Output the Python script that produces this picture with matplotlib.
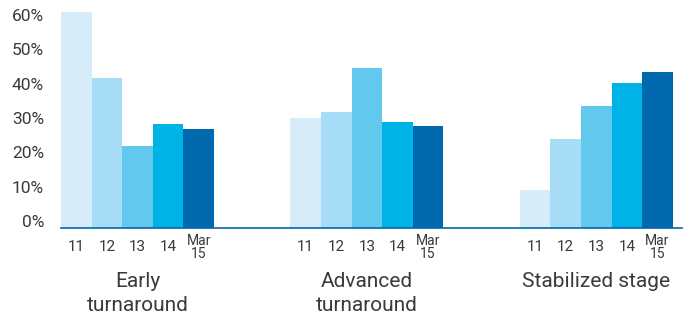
import numpy as np
import matplotlib
matplotlib.use("Agg")
import matplotlib.pyplot as plt
from matplotlib.transforms import blended_transform_factory

plt.rcParams["font.family"] = ["Roboto", "DejaVu Sans"]

# share of each stage per period (%)
stages = ["Early\nturnaround", "Advanced\nturnaround", "Stabilized stage"]
periods = ["11", "12", "13", "14", "Mar\n15"]
early = [60.0, 41.7, 22.8, 28.8, 27.6]
advanced = [30.6, 32.3, 44.5, 29.5, 28.2]
stabilized = [10.6, 24.8, 34.0, 40.3, 43.3]
yticks = [0, 10, 20, 30, 40, 50, 60]

colors = ["#d6edf9", "#a6dcf5", "#63c8ee", "#00b3e6", "#0068ac"]
text_color = "#3a3a3a"

fig = plt.figure(figsize=(6.88, 3.22), dpi=100)
ax = fig.add_axes([61 / 688, 1 - 228 / 322, (682 - 61) / 688, 216 / 322])

group_start = [0.0, 7.5, 15.0]
for start, values in zip(group_start, [early, advanced, stabilized]):
    x = start + np.arange(len(values))
    ax.bar(x, values, width=1.0, color=colors, linewidth=0)

ax.set_xlim(-0.5, 19.8)
ax.set_ylim(0, 60)
for side in ["top", "right", "left"]:
    ax.spines[side].set_visible(False)
ax.spines["bottom"].set_color("#0068ac")
ax.spines["bottom"].set_linewidth(1.2)
ax.set_xticks([])
ax.set_yticks([])

# y labels: the label column runs slightly tighter than the bar scale
ylab = blended_transform_factory(fig.transFigure, ax.transData)
for k, v in enumerate(yticks):
    ax.text(44 / 688, v + 1.4 - k * 0.42, f"{v}%", transform=ylab, ha="right",
            va="center", fontsize=12.5, color=text_color)

trans = blended_transform_factory(ax.transData, ax.transAxes)
for start, stage in zip(group_start, stages):
    for i, p in enumerate(periods):
        if "\n" in p:
            ax.text(start + i, -0.09, p, transform=trans, ha="center", va="center",
                    fontsize=10, linespacing=0.85, color=text_color)
        else:
            ax.text(start + i, -0.09, p, transform=trans, ha="center", va="center",
                    fontsize=11, color=text_color)
    ax.text(start + 2, -0.205, stage, transform=trans, ha="center", va="top",
            fontsize=15, linespacing=1.3, color=text_color)

fig.savefig("out.png", dpi=100)
